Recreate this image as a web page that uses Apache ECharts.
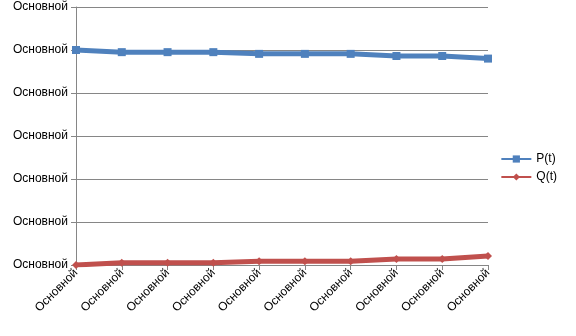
<!DOCTYPE html>
<html><head><meta charset="utf-8">
<script src="https://cdn.jsdelivr.net/npm/echarts@6/dist/echarts.min.js"></script>
<style>html,body{margin:0;padding:0;background:#fff}#c{width:576px;height:336px}</style>
</head><body><div id="c"></div>
<script>
const tVals = [0, 1, 2, 3, 4, 5, 6, 7, 8, 9];
const pVals = [50.0, 49.5, 49.5, 49.5, 49.1, 49.1, 49.1, 48.6, 48.6, 48.0];
const qVals = [0.0, 0.5, 0.5, 0.5, 0.9, 0.9, 0.9, 1.4, 1.4, 2.1];
const tickLabel = 'Основной';
const seriesNames = ['P(t)', 'Q(t)'];

const chart = echarts.init(document.getElementById('c'));
const font = 'Liberation Sans, Arial, sans-serif';
chart.setOption({
  animation: false,
  grid: {left: 76, right: 88, top: 7, bottom: 71},
  legend: {
    right: 14, top: 'middle', orient: 'vertical', itemWidth: 30, itemHeight: 9, itemGap: 6,
    textStyle: {fontFamily: font, fontSize: 12, color: '#000'},
    data: seriesNames
  },
  xAxis: {
    type: 'value', min: 0, max: 9, interval: 1,
    axisLine: {lineStyle: {color: '#868686'}},
    axisTick: {show: true, length: 5, lineStyle: {color: '#868686'}},
    splitLine: {show: false},
    axisLabel: {rotate: 45, formatter: () => tickLabel, fontFamily: font, fontSize: 12, color: '#000', margin: 6}
  },
  yAxis: {
    type: 'value', min: 0, max: 60, interval: 10,
    axisLine: {show: true, lineStyle: {color: '#868686'}},
    axisTick: {show: true, length: 5, lineStyle: {color: '#868686'}},
    splitLine: {show: true, lineStyle: {color: '#868686'}},
    axisLabel: {formatter: () => tickLabel, fontFamily: font, fontSize: 12, color: '#000', margin: 8}
  },
  series: [
    {name: seriesNames[0], type: 'line', data: tVals.map((t, i) => [t, pVals[i]]),
     symbol: 'rect', symbolSize: 8, lineStyle: {width: 5, color: '#4F81BD'},
     itemStyle: {color: '#4F81BD'}},
    {name: seriesNames[1], type: 'line', data: tVals.map((t, i) => [t, qVals[i]]),
     symbol: 'diamond', symbolSize: 8, lineStyle: {width: 5, color: '#C0504D'},
     itemStyle: {color: '#C0504D'}}
  ]
});
</script></body></html>
